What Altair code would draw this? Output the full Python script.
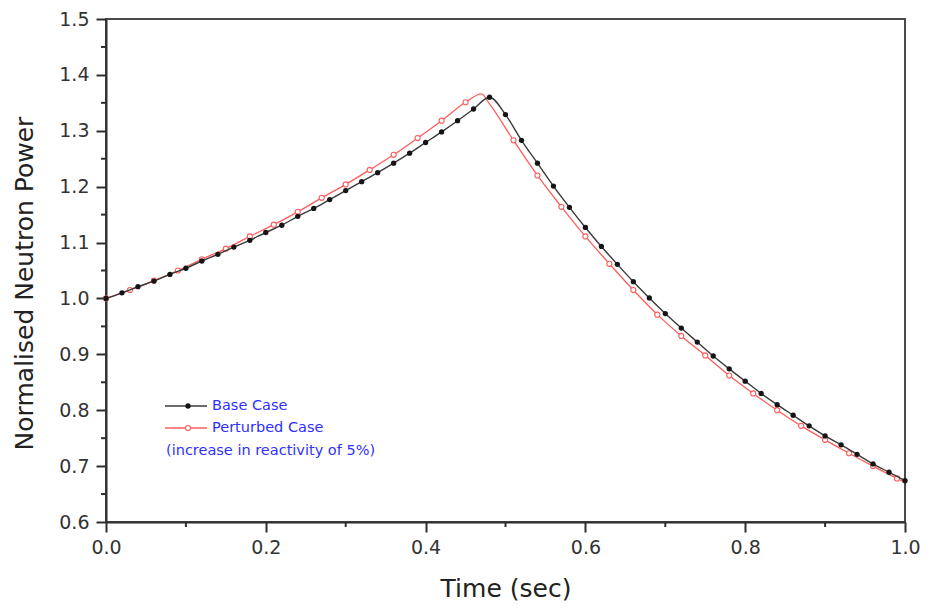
import altair as alt
import pandas as pd

# ---- data -------------------------------------------------------------
base_time = [0.00, 0.02, 0.04, 0.06, 0.08, 0.10, 0.12, 0.14, 0.16, 0.18,
             0.20, 0.22, 0.24, 0.26, 0.28, 0.30, 0.32, 0.34, 0.36, 0.38,
             0.40, 0.42, 0.44, 0.46, 0.48, 0.50, 0.52, 0.54, 0.56, 0.58,
             0.60, 0.62, 0.64, 0.66, 0.68, 0.70, 0.72, 0.74, 0.76, 0.78,
             0.80, 0.82, 0.84, 0.86, 0.88, 0.90, 0.92, 0.94, 0.96, 0.98,
             1.00]
base_power = [1.000, 1.010, 1.021, 1.031, 1.043, 1.054, 1.067, 1.079, 1.092, 1.104,
              1.118, 1.131, 1.147, 1.161, 1.177, 1.193, 1.209, 1.225, 1.242, 1.260,
              1.279, 1.298, 1.318, 1.339, 1.360, 1.329, 1.283, 1.242, 1.201, 1.163,
              1.127, 1.093, 1.061, 1.030, 1.001, 0.973, 0.947, 0.922, 0.897, 0.874,
              0.852, 0.830, 0.810, 0.791, 0.772, 0.754, 0.738, 0.721, 0.704, 0.689,
              0.674]

pert_time = [0.00, 0.03, 0.06, 0.09, 0.12, 0.15, 0.18, 0.21, 0.24, 0.27,
             0.30, 0.33, 0.36, 0.39, 0.42, 0.45, 0.47, 0.48, 0.51, 0.54,
             0.57, 0.60, 0.63, 0.66, 0.69, 0.72, 0.75, 0.78, 0.81, 0.84,
             0.87, 0.90, 0.93, 0.96, 0.99, 1.00]
pert_power = [1.000, 1.015, 1.032, 1.050, 1.070, 1.089, 1.111, 1.132, 1.155, 1.180,
              1.204, 1.230, 1.257, 1.287, 1.318, 1.351, 1.366, 1.348, 1.283, 1.220,
              1.164, 1.111, 1.062, 1.015, 0.971, 0.933, 0.898, 0.862, 0.830, 0.800,
              0.772, 0.747, 0.723, 0.700, 0.678, 0.671]
# samples on the perturbed curve that carry no symbol
pert_unmarked_time = [0.47, 0.48, 1.00]

series_names = ["Base Case", "Perturbed Case"]
legend_note = "(increase in reactivity of 5%)"

x_major_ticks = [0.0, 0.2, 0.4, 0.6, 0.8, 1.0]
x_minor_ticks = [0.1, 0.3, 0.5, 0.7, 0.9]
y_major_ticks = [0.6, 0.7, 0.8, 0.9, 1.0, 1.1, 1.2, 1.3, 1.4, 1.5]
y_minor_ticks = [0.65, 0.75, 0.85, 0.95, 1.05, 1.15, 1.25, 1.35, 1.45]

# ---- styling ----------------------------------------------------------
FONT = "DejaVu Sans"
AX = "#2e2e2e"
BASE_COLOR = "#151515"
BASE_LINE = "#3a3a3a"
PERT_COLOR = "#ff5c5c"
NOTE_COLOR = "#2f2fff"
W, H = 799, 503

base_df = pd.DataFrame({"t": base_time, "p": base_power})
pert_df = pd.DataFrame({"t": pert_time, "p": pert_power})
pert_marks = pert_df[~pert_df["t"].isin(pert_unmarked_time)]

xs = alt.Scale(domain=[0, 1], nice=False, zero=False)
ys = alt.Scale(domain=[0.6, 1.5], nice=False, zero=False)

x_axis = alt.Axis(
    values=x_major_ticks, format=".1f", grid=False,
    tickSize=10, tickWidth=2, tickColor=AX, domainColor=AX, domainWidth=2,
    labelFont=FONT, labelFontSize=19, labelColor="#333333", labelPadding=6,
    labelFlush=False,
    title="Time (sec)", titleFont=FONT, titleFontSize=25, titleFontWeight="normal",
    titleColor="#222222", titleBaseline="alphabetic", titleY=74,
)
y_axis = alt.Axis(
    values=y_major_ticks, format=".1f", grid=False,
    tickSize=10, tickWidth=2, tickColor=AX, domainColor=AX, domainWidth=2,
    labelFont=FONT, labelFontSize=19, labelColor="#333333", labelPadding=7,
    labelFlush=False,
    title="Normalised Neutron Power", titleFont=FONT, titleFontSize=25,
    titleFontWeight="normal", titleColor="#222222", titleAngle=270,
    titleAlign="center", titleBaseline="alphabetic", titleX=-74, titleY=264,
)


def xq(field):
    return alt.X(field, type="quantitative", scale=xs, axis=x_axis)


def yq(field):
    return alt.Y(field, type="quantitative", scale=ys, axis=y_axis)


pert_line = alt.Chart(pert_df).mark_line(
    color=PERT_COLOR, strokeWidth=1.3, interpolate="monotone"
).encode(x=xq("t"), y=yq("p"))

pert_pts = alt.Chart(pert_marks).mark_point(
    shape="circle", size=26, filled=False, fill="white", fillOpacity=1,
    stroke=PERT_COLOR, strokeWidth=1.1, opacity=1
).encode(x=xq("t"), y=yq("p"))

base_line = alt.Chart(base_df).mark_line(
    color=BASE_LINE, strokeWidth=1.4, interpolate="monotone"
).encode(x=xq("t"), y=yq("p"))

base_pts = alt.Chart(base_df).mark_point(
    shape="circle", size=28, filled=True, color=BASE_COLOR, opacity=1
).encode(x=xq("t"), y=yq("p"))

# minor ticks drawn outside the plot edges
x_minor = alt.Chart(pd.DataFrame({"v": x_minor_ticks})).mark_rule(
    color=AX, strokeWidth=2
).encode(x=xq("v"), y=alt.value(H), y2=alt.value(H + 5))

y_minor = alt.Chart(pd.DataFrame({"v": y_minor_ticks})).mark_rule(
    color=AX, strokeWidth=2
).encode(y=yq("v"), x=alt.value(-5), x2=alt.value(0))

# in-plot legend
one = pd.DataFrame({"k": [0]})
lg_x0, lg_x1, lg_xm, lg_tx = 59, 101, 82, 106
lg_y1, lg_y2, lg_y3 = 387, 409, 432

leg_base_rule = alt.Chart(one).mark_rule(color=BASE_LINE, strokeWidth=1.4).encode(
    x=alt.value(lg_x0), x2=alt.value(lg_x1), y=alt.value(lg_y1))
leg_base_pt = alt.Chart(one).mark_point(
    shape="circle", size=28, filled=True, color=BASE_COLOR, opacity=1
).encode(x=alt.value(lg_xm), y=alt.value(lg_y1))
leg_pert_rule = alt.Chart(one).mark_rule(color=PERT_COLOR, strokeWidth=1.3).encode(
    x=alt.value(lg_x0), x2=alt.value(lg_x1), y=alt.value(lg_y2))
leg_pert_pt = alt.Chart(one).mark_point(
    shape="circle", size=26, filled=False, fill="white", fillOpacity=1,
    stroke=PERT_COLOR, strokeWidth=1.1, opacity=1
).encode(x=alt.value(lg_xm), y=alt.value(lg_y2))

text_style = dict(align="left", baseline="middle", font=FONT, fontSize=14.5,
                  color=NOTE_COLOR)
leg_t1 = alt.Chart(one).mark_text(**text_style).encode(
    x=alt.value(lg_tx), y=alt.value(lg_y1), text=alt.value(series_names[0]))
leg_t2 = alt.Chart(one).mark_text(**text_style).encode(
    x=alt.value(lg_tx), y=alt.value(lg_y2), text=alt.value(series_names[1]))
leg_t3 = alt.Chart(one).mark_text(**text_style).encode(
    x=alt.value(lg_x0 + 1), y=alt.value(lg_y3), text=alt.value(legend_note))

chart = alt.layer(
    pert_line, pert_pts, base_line, base_pts, x_minor, y_minor,
    leg_base_rule, leg_base_pt, leg_pert_rule, leg_pert_pt, leg_t1, leg_t2, leg_t3,
).properties(
    width=W, height=H,
    padding={"left": 106, "top": 19, "right": 22, "bottom": 88},
    autosize=alt.AutoSizeParams(type="none"),
    background="white",
).configure_view(stroke="#4a4a4a", strokeWidth=2)

chart.save("out.html", embed_options={"renderer": "svg", "actions": False})
